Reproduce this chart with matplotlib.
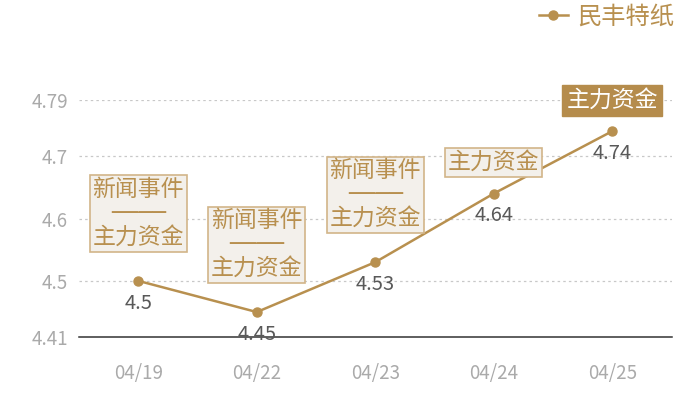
import matplotlib
matplotlib.use("Agg")
from matplotlib import pyplot as plt

plt.rcParams['font.family'] = ['Noto Sans CJK SC', 'DejaVu Sans']

dates = ['04/19', '04/22', '04/23', '04/24', '04/25']
prices = [4.5, 4.45, 4.53, 4.64, 4.74]
rule = '\u2500' * 4
notes = ['新闻事件\n' + rule + '\n主力资金', '新闻事件\n' + rule + '\n主力资金',
         '新闻事件\n' + rule + '\n主力资金', '主力资金', '主力资金']
highlight = [False, False, False, False, True]
yticks = [4.41, 4.5, 4.6, 4.7, 4.79]
series_name = '民丰特纸'

gold = '#b8904f'
box_edge = '#d2b589'
box_fill = '#f3f0eb'

fig = plt.figure(figsize=(7, 4), dpi=100)
ax = fig.add_axes([0.1129, 0.1575, 0.8464, 0.5925])

xs = list(range(len(dates)))
ax.plot(xs, prices, color=gold, linewidth=1.8, marker='o', markersize=6.5, label=series_name)

ax.set_xlim(-0.5, len(dates) - 0.5)
ax.set_ylim(yticks[0], yticks[-1])
ax.set_yticks(yticks)
ax.set_yticklabels([str(t) for t in yticks])
ax.set_xticks(xs)
ax.set_xticklabels(dates)
ax.tick_params(length=0, labelsize=13.5, colors='#aaaaaa', pad=8)
ax.tick_params(axis='x', pad=19)

for t in yticks[1:]:
    ax.axhline(t, color='#c8c8c8', linewidth=0.9, linestyle=(0, (2, 2.5)), zorder=0)

for s in ['top', 'right', 'left']:
    ax.spines[s].set_visible(False)
ax.spines['bottom'].set_color('#333333')
ax.spines['bottom'].set_linewidth(1.1)

# value labels under the points
for x, v in zip(xs, prices):
    ax.annotate(str(v), xy=(x, v), xytext=(0, -16), textcoords='offset points',
                ha='center', va='center', fontsize=14.5, color='#595959')

# event boxes above the points
for x, v, n, h in zip(xs, prices, notes, highlight):
    multi = '\n' in n
    off = 23 if multi else 14
    if h:
        bb = dict(boxstyle='square,pad=0.18', fc='#b58c4c', ec='#b58c4c')
        tc = 'white'
    else:
        bb = dict(boxstyle='square,pad=0.12', fc=box_fill, ec=box_edge, lw=1.2)
        tc = gold
    ax.annotate(n, xy=(x, v), xytext=(0, off), textcoords='offset points',
                ha='center', va='bottom', fontsize=16.5, color=tc,
                family=['DejaVu Sans', 'Noto Sans CJK SC'],
                linespacing=1.05, bbox=bb, annotation_clip=False)

leg = fig.legend(loc='upper right', bbox_to_anchor=(0.995, 1.045), frameon=False,
                 fontsize=17.5, handlelength=1.2, handletextpad=0.4,
                 labelcolor=gold)

plt.savefig('out.png', dpi=100)
